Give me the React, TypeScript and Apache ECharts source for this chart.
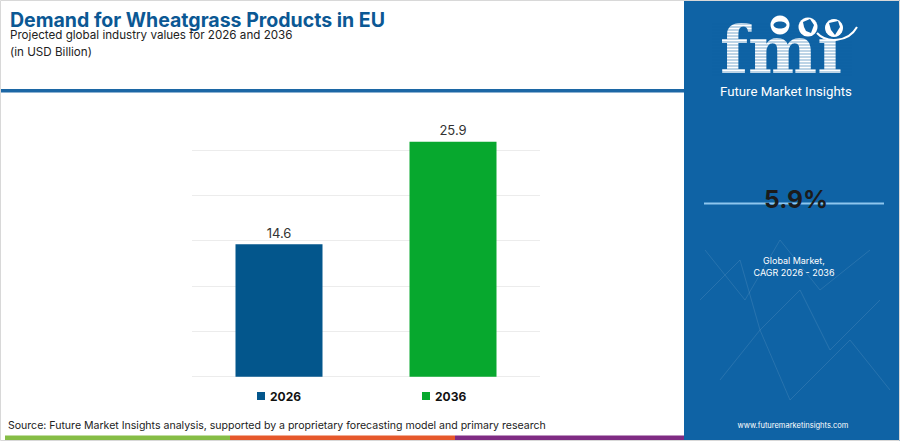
import React, { useEffect, useRef } from "react";
import * as echarts from "echarts";

const categories = ["2026", "2036"];
const seriesNames = ["2026", "2036"];
const values = [14.6, 25.9];
const barColors = ["#03568c", "#07a82e"];
const yTicks = [0, 5, 10, 15, 20, 25];

const titleText = "Demand for Wheatgrass Products in EU";
const subtitleText = "Projected global industry values for 2026 and 2036";
const unitText = "(in USD Billion)";
const sourceText =
  "Source: Future Market Insights analysis, supported by a proprietary forecasting model and primary research";
const cagrText = "5.9%";
const cagrLabel = ["Global Market,", "CAGR 2026 - 2036"];
const brandText = "Future Market Insights";
const urlText = "www.futuremarketinsights.com";

const PANEL = "#0f63a5";

function measure(txt: string, font: string): number {
  const c = document.createElement("canvas").getContext("2d");
  if (!c) return 100;
  c.font = font;
  return c.measureText(txt).width || 100;
}
function fit(txt: string, weight: string, family: string, target: number, base = 20) {
  return (base * target) / measure(txt, `${weight} ${base}px ${family}`);
}

export default function App() {
  const ref = useRef<HTMLDivElement>(null);
  useEffect(() => {
    if (!ref.current) return;
    const chart = echarts.init(ref.current, undefined, { renderer: "svg" });
    const FF = "Inter";
    const titleSize = fit(titleText, "bold", FF, 375);
    const subSize = fit(subtitleText, "normal", FF, 283);
    const srcSize = fit(sourceText, "normal", FF, 538);
    const cagrSize = fit(cagrText, "bold", FF, 64);
    const cagrLblSize = fit(cagrLabel[1], "normal", FF, 81);
    const urlSize = fit(urlText, "normal", FF, 111);
    const logoSize = fit("fm\u0131", "bold", "DejaVu Serif", 122);
    const brandSize = fit(brandText, "normal", "Roboto", 132);

    const stripes: any[] = [];
    for (let y = 24; y <= 76; y += 3) {
      stripes.push({
        type: "line",
        shape: { x1: 712, y1: y, x2: 852, y2: y },
        style: { stroke: PANEL, lineWidth: 1, opacity: 0.55 },
        z: 12,
      });
    }
    const net: any[] = [
      [[700, 300], [740, 260], [760, 330], [800, 290], [830, 350], [880, 300]],
      [[720, 380], [760, 330], [790, 400], [850, 340], [890, 390]],
      [[705, 250], [745, 300], [780, 240], [820, 290], [870, 250]],
    ].map((pts) => ({
      type: "polyline",
      shape: { points: pts },
      style: { stroke: "rgba(255,255,255,0.10)", lineWidth: 1, fill: null },
      z: 11,
    }));

    chart.setOption({
      animation: false,
      backgroundColor: "#ffffff",
      grid: { left: 192, right: 360, top: 150, bottom: 64.3, containLabel: false },
      legend: {
        data: seriesNames,
        left: 257,
        top: 390,
        padding: 0,
        icon: "rect",
        itemWidth: 8,
        itemHeight: 8,
        itemGap: 121,
        textStyle: { fontFamily: FF, fontWeight: "bold", fontSize: 12, color: "#111" },
      },
      xAxis: {
        type: "category",
        data: categories,
        axisLine: { show: false },
        axisTick: { show: false },
        axisLabel: { show: false },
      },
      yAxis: {
        type: "value",
        min: yTicks[0],
        max: yTicks[yTicks.length - 1],
        interval: yTicks[1] - yTicks[0],
        axisLabel: { show: false },
        axisLine: { show: false },
        axisTick: { show: false },
        splitLine: { lineStyle: { color: "#ececec", width: 1 } },
      },
      series: seriesNames.map((name, i) => ({
        name,
        type: "bar",
        stack: "total",
        barWidth: 87,
        clip: false,
        data: categories.map((_, j) => (j === i ? values[i] : "-")),
        itemStyle: { color: barColors[i] },
        label: {
          show: true,
          position: "top",
          distance: 5,
          fontFamily: FF,
          fontSize: 13,
          color: "#333",
        },
      })),
      graphic: [
        { type: "rect", shape: { x: 684, y: 0, width: 216, height: 441 }, style: { fill: PANEL }, z: 10 },
        ...net,
        {
          type: "text",
          x: 10,
          y: 20,
          style: { text: titleText, fontFamily: FF, fontWeight: "bold", fontSize: titleSize, fill: "#0b5894", verticalAlign: "middle" },
          z: 10,
        },
        {
          type: "text",
          x: 10,
          y: 35,
          style: { text: subtitleText, fontFamily: FF, fontSize: subSize, fill: "#222", verticalAlign: "middle" },
          z: 10,
        },
        {
          type: "text",
          x: 10,
          y: 52,
          style: { text: unitText, fontFamily: FF, fontSize: subSize, fill: "#222", verticalAlign: "middle" },
          z: 10,
        },
        { type: "rect", shape: { x: 0, y: 89, width: 684, height: 3.5 }, style: { fill: "#1c67a5" }, z: 10 },
        {
          type: "text",
          x: 8,
          y: 425,
          style: { text: sourceText, fontFamily: FF, fontSize: srcSize, fill: "#222", verticalAlign: "middle" },
          z: 10,
        },
        { type: "rect", shape: { x: 5, y: 435.5, width: 225, height: 5.5 }, style: { fill: "#86bd46" }, z: 10 },
        { type: "rect", shape: { x: 230, y: 435.5, width: 225, height: 5.5 }, style: { fill: "#e6582b" }, z: 10 },
        { type: "rect", shape: { x: 455, y: 435.5, width: 229, height: 5.5 }, style: { fill: "#7f2b83" }, z: 10 },
        // logo
        {
          type: "text",
          x: 720,
          y: 50,
          style: {
            text: "fm\u0131",
            fontFamily: "DejaVu Serif",
            fontWeight: "bold",
            fontSize: logoSize,
            lineHeight: logoSize * 0.7,
            fill: "#ffffff",
            verticalAlign: "middle",
          },
          z: 11,
        },
        ...stripes,
        { type: "circle", shape: { cx: 780, cy: 25, r: 9.5 }, style: { fill: "#ffffff" }, z: 13 },
        { type: "circle", shape: { cx: 808, cy: 27, r: 9.5 }, style: { fill: "#ffffff" }, z: 13 },
        { type: "circle", shape: { cx: 834, cy: 28, r: 9 }, style: { fill: "#ffffff" }, z: 13 },
        { type: "ellipse", shape: { cx: 780, cy: 25, rx: 6.5, ry: 3.5 }, style: { fill: PANEL }, z: 14 },
        {
          type: "polygon",
          shape: { points: [[803, 22], [810, 19], [814, 25], [811, 33], [806, 31], [804, 27]] },
          style: { fill: PANEL },
          z: 14,
        },
        {
          type: "polygon",
          shape: { points: [[829, 23], [838, 21], [840, 27], [835, 35], [831, 30]] },
          style: { fill: PANEL },
          z: 14,
        },
        {
          type: "bezierCurve",
          shape: { x1: 817, y1: 33, cpx1: 826, cpy1: 43, cpx2: 848, cpy2: 43, x2: 857, y2: 27 },
          style: { stroke: "#ffffff", lineWidth: 2, fill: null },
          z: 13,
        },
        {
          type: "text",
          x: 720,
          y: 91,
          style: { text: brandText, fontFamily: "Roboto", fontSize: brandSize, fill: "#ffffff", verticalAlign: "middle" },
          z: 13,
        },
        // CAGR
        { type: "line", shape: { x1: 704, y1: 203.5, x2: 884, y2: 203.5 }, style: { stroke: "#8ec6ee", lineWidth: 2 }, z: 12 },
        {
          type: "text",
          x: 796,
          y: 199,
          style: { text: cagrText, fontFamily: FF, fontWeight: "bold", fontSize: cagrSize, fill: "#1b1b1b", align: "center", verticalAlign: "middle" },
          z: 13,
        },
        {
          type: "text",
          x: 794,
          y: 266.5,
          style: {
            text: cagrLabel.join("\n"),
            fontFamily: FF,
            fontSize: cagrLblSize,
            lineHeight: 11.5,
            fill: "#ffffff",
            align: "center",
            verticalAlign: "middle",
          },
          z: 13,
        },
        {
          type: "text",
          x: 793,
          y: 425,
          style: { text: urlText, fontFamily: FF, fontSize: urlSize, fill: "#ffffff", align: "center", verticalAlign: "middle" },
          z: 13,
        },
        {
          type: "rect",
          shape: { x: 0.5, y: 0.5, width: 899, height: 440 },
          style: { fill: null, stroke: "#d8d8d8", lineWidth: 1 },
          z: 20,
        },
      ],
    });
    return () => chart.dispose();
  }, []);
  return (
    <div
      ref={ref}
      style={{ position: "fixed", left: 0, top: 0, width: 900, height: 441, background: "#fff" }}
    />
  );
}
